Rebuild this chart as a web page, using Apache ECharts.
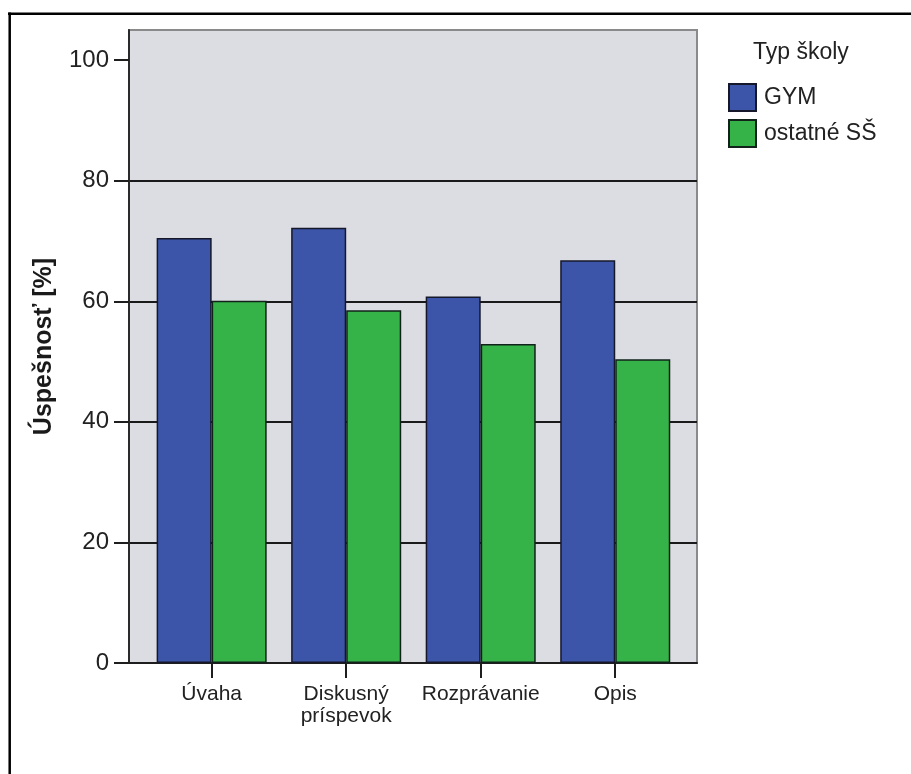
<!DOCTYPE html>
<html>
<head>
<meta charset="utf-8">
<script src="https://cdn.jsdelivr.net/npm/echarts@6/dist/echarts.min.js"></script>
<style>
html,body{margin:0;padding:0;background:#fff;}
#chart{width:911px;height:774px;}
</style>
</head>
<body>
<div id="chart"></div>
<script>
var categories = ['Úvaha', 'Diskusný\npríspevok', 'Rozprávanie', 'Opis'];
var seriesNames = ['GYM', 'ostatné SŠ'];
var gymValues = [70.5, 72.2, 60.8, 66.8];
var otherValues = [60.1, 58.5, 52.9, 50.4];
var yTicks = [0, 20, 40, 60, 80, 100];
var yAxisTitle = 'Úspešnosť [%]';
var legendTitle = 'Typ školy';

var FONT = '"Liberation Sans", Arial, sans-serif';
var chart = echarts.init(document.getElementById('chart'), null, {renderer: 'canvas'});

var option = {
  backgroundColor: '#ffffff',
  animation: false,
  title: {
    text: legendTitle,
    left: 753,
    top: 41,
    padding: 0,
    textStyle: {fontFamily: FONT, fontSize: 23, fontWeight: 'normal', color: '#222'}
  },
  legend: {
    orient: 'vertical',
    left: 728,
    top: 83,
    padding: 0,
    itemWidth: 27,
    itemHeight: 27,
    itemGap: 7,
    icon: 'rect',
    textStyle: {fontFamily: FONT, fontSize: 23, color: '#222', padding: [0, 0, 0, 3]},
    data: seriesNames
  },
  grid: [
    {left: 129, right: 214, top: 30, bottom: 111, show: true, backgroundColor: '#dcdce3', borderColor: '#8a8a8a', borderWidth: 2},
    {left: 144.4, right: 228.5, top: 30, bottom: 111}
  ],
  xAxis: [
    {gridIndex: 0, type: 'value', min: 0, max: 1,
      axisLine: {show: true, lineStyle: {color: '#1e1e1e', width: 2}},
      axisTick: {show: false}, axisLabel: {show: false}, splitLine: {show: false}},
    {gridIndex: 1, type: 'category', data: categories,
      axisLine: {show: false},
      axisTick: {show: true, alignWithLabel: true, length: 15, lineStyle: {color: '#1e1e1e', width: 2}},
      axisLabel: {fontFamily: FONT, fontSize: 21, color: '#222', margin: 20, lineHeight: 22, interval: 0},
      splitLine: {show: false}}
  ],
  yAxis: [
    {gridIndex: 0, type: 'value', min: 0, max: 105, interval: 20,
      name: yAxisTitle, nameLocation: 'middle', nameGap: 72,
      nameTextStyle: {fontFamily: FONT, fontSize: 25, fontWeight: 'bold', color: '#1a1a1a'},
      axisLine: {show: true, lineStyle: {color: '#2a2a2a', width: 2}},
      axisTick: {show: true, length: 15, customValues: yTicks, lineStyle: {color: '#1e1e1e', width: 2}},
      axisLabel: {fontFamily: FONT, fontSize: 24, color: '#222', margin: 20, customValues: yTicks},
      splitLine: {show: true, showMinLine: false, showMaxLine: false, lineStyle: {color: '#1a1a1a', width: 2}}},
    {gridIndex: 1, type: 'value', min: 0, max: 105, show: false, splitLine: {show: false}}
  ],
  series: [
    {name: seriesNames[0], type: 'bar', xAxisIndex: 1, yAxisIndex: 1, data: gymValues,
      barGap: '0%', barCategoryGap: '18.2%',
      itemStyle: {color: '#3d55a8', borderColor: '#15172a', borderWidth: 1.5}},
    {name: seriesNames[1], type: 'bar', xAxisIndex: 1, yAxisIndex: 1, data: otherValues,
      barGap: '0%', barCategoryGap: '18.2%',
      itemStyle: {color: '#35b348', borderColor: '#10221a', borderWidth: 1.5}}
  ],
  graphic: [
    {type: 'line', shape: {x1: 8, y1: 13.8, x2: 911, y2: 13.8}, style: {stroke: '#000', lineWidth: 2.5}, silent: true},
    {type: 'line', shape: {x1: 9.7, y1: 12.5, x2: 9.7, y2: 774}, style: {stroke: '#000', lineWidth: 2.5}, silent: true}
  ]
};
chart.setOption(option);
</script>
</body>
</html>
